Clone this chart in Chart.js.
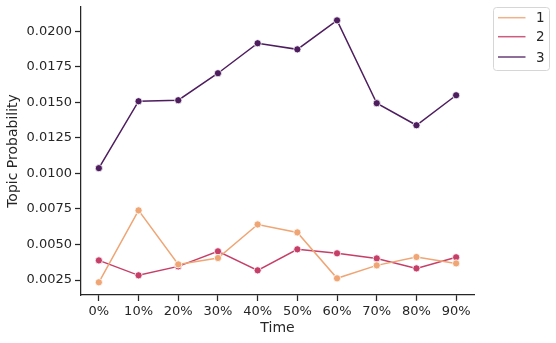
<!DOCTYPE html>
<html>
<head>
<meta charset="utf-8">
<script src="https://cdn.jsdelivr.net/npm/chart.js@4/dist/chart.umd.min.js"></script>
<style>
  html, body { margin: 0; padding: 0; background: #fff; }
  #wrap { width: 556px; height: 343px; position: relative; }
</style>
</head>
<body>
<div id="wrap"><canvas id="chart"></canvas></div>
<script>
// Data
const timeLabels = ['0%', '10%', '20%', '30%', '40%', '50%', '60%', '70%', '80%', '90%'];
const topicNames = ['1', '2', '3'];
const topic1 = [0.00234, 0.00740, 0.00360, 0.00405, 0.00641, 0.00585, 0.00262, 0.00353, 0.00412, 0.00367];
const topic2 = [0.00388, 0.00283, 0.00346, 0.00452, 0.00318, 0.00466, 0.00438, 0.00402, 0.00332, 0.00410];
const topic3 = [0.01037, 0.01508, 0.01515, 0.01705, 0.01916, 0.01873, 0.02077, 0.01494, 0.01339, 0.01550];
const yTicks = [0.0025, 0.0050, 0.0075, 0.0100, 0.0125, 0.0150, 0.0175, 0.0200];

const colors = ['#efa574', '#c63f68', '#4d1d5e'];
const ink = '#262626';
const font = 'DejaVu Sans';

const series = [topic1, topic2, topic3];
const datasets = series.map((vals, i) => ({
  label: topicNames[i],
  data: vals.map((v, j) => ({ x: j, y: v })),
  borderColor: colors[i],
  backgroundColor: colors[i],
  pointBackgroundColor: colors[i],
  pointBorderColor: '#ffffff',
  pointBorderWidth: 0.8,
  pointRadius: 3.6,
  borderWidth: 1.5,
  tension: 0
}));

// legend drawn like matplotlib's boxed legend outside the axes
const legendBox = {
  id: 'legendBox',
  afterDraw(chart) {
    const ctx = chart.ctx;
    const x = 493.5, y = 7.5, w = 56, h = 63;
    ctx.save();
    ctx.fillStyle = 'rgba(255,255,255,0.8)';
    ctx.strokeStyle = '#d6d6d6';
    ctx.lineWidth = 1;
    ctx.beginPath();
    ctx.roundRect(x, y, w, h, 3);
    ctx.fill();
    ctx.stroke();
    ctx.font = '13.5px "' + font + '"';
    ctx.textBaseline = 'middle';
    ctx.textAlign = 'left';
    const rows = [17.7, 36.7, 57];
    topicNames.forEach((name, i) => {
      ctx.strokeStyle = colors[i];
      ctx.globalAlpha = 0.85;
      ctx.lineWidth = 1.5;
      ctx.beginPath();
      ctx.moveTo(498, rows[i]);
      ctx.lineTo(525.5, rows[i]);
      ctx.stroke();
      ctx.globalAlpha = 1;
      ctx.fillStyle = ink;
      ctx.fillText(name, 536, rows[i] + 1);
    });
    ctx.restore();
  }
};

new Chart(document.getElementById('chart'), {
  type: 'line',
  data: { datasets },
  options: {
    responsive: true,
    maintainAspectRatio: false,
    animation: false,
    layout: { padding: { top: 7, right: 82, left: 0, bottom: 0 } },
    plugins: {
      legend: { display: false },
      tooltip: { enabled: false }
    },
    scales: {
      x: {
        type: 'linear',
        min: -0.45,
        max: 9.45,
        afterBuildTicks: s => { s.ticks = timeLabels.map((_, i) => ({ value: i })); },
        afterFit: s => { s.height = 48; s.paddingLeft = 0; s.paddingRight = 0; },
        ticks: {
          callback: v => timeLabels[v],
          color: ink,
          font: { family: font, size: 13 },
          padding: 3,
          maxRotation: 0,
          autoSkip: false
        },
        grid: { drawOnChartArea: false, drawTicks: true, tickLength: 6, tickWidth: 1.25, tickColor: ink },
        border: { display: true, color: ink, width: 1.25 },
        title: { display: true, text: 'Time', color: ink, font: { family: font, size: 14 }, padding: { top: 1, bottom: 6 } }
      },
      y: {
        min: 0.001446,
        max: 0.02171,
        afterBuildTicks: s => { s.ticks = yTicks.map(v => ({ value: v })); },
        afterFit: s => { s.width = 81; s.paddingTop = 0; s.paddingBottom = 0; },
        ticks: {
          callback: v => Number(v).toFixed(4),
          color: ink,
          font: { family: font, size: 13 },
          padding: 3
        },
        grid: { drawOnChartArea: false, drawTicks: true, tickLength: 6, tickWidth: 1.25, tickColor: ink },
        border: { display: true, color: ink, width: 1.25 },
        title: { display: true, text: 'Topic Probability', color: ink, font: { family: font, size: 14 }, padding: { top: 5, bottom: 2 } }
      }
    }
  },
  plugins: [legendBox]
});
</script>
</body>
</html>
